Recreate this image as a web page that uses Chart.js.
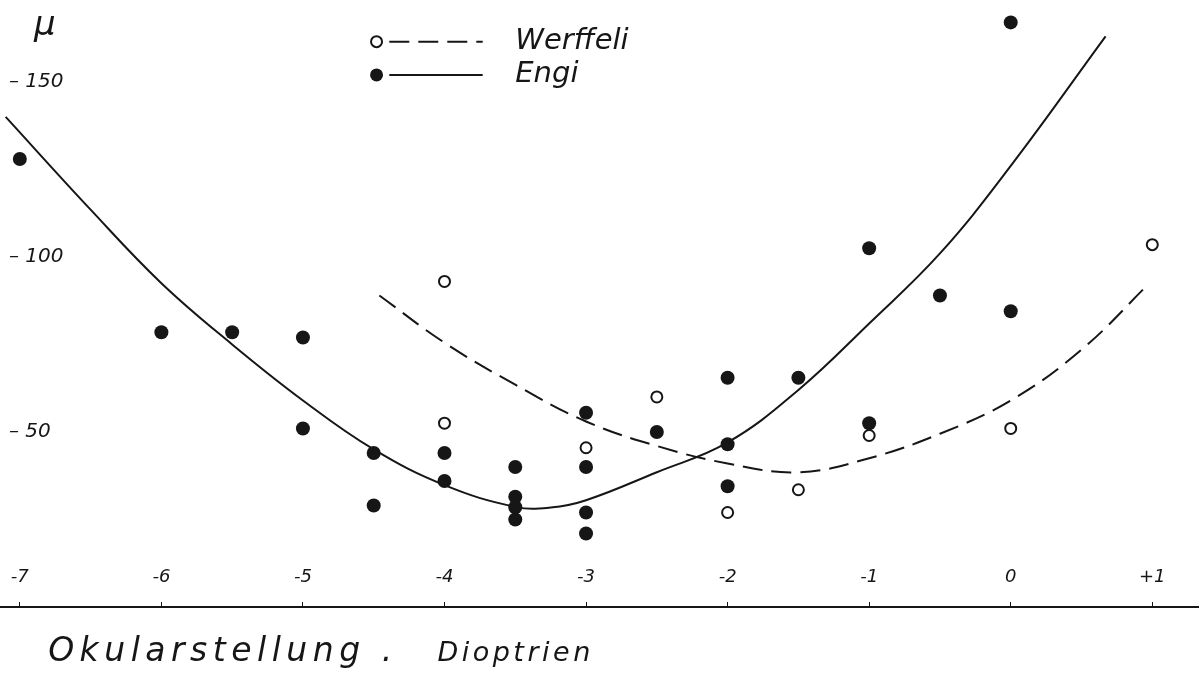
<!DOCTYPE html>
<html>
<head>
<meta charset="utf-8">
<script src="https://cdn.jsdelivr.net/npm/chart.js@4.4.1/dist/chart.umd.min.js"></script>
<style>
  html, body { margin: 0; padding: 0; background: #fff; }
</style>
</head>
<body>
<canvas id="chart" width="1199" height="673"></canvas>
<script>
// tick labels
const xTicks = [-7, -6, -5, -4, -3, -2, -1, 0, 1];
const xTickLabels = ['-7', '-6', '-5', '-4', '-3', '-2', '-1', '0', '+1'];
const yTicks = [50, 100, 150];
const yTickLabels = ['\u2013 50', '\u2013 100', '\u2013 150'];

// Engi (filled dots)
const engiX = [-7, -6, -5.5, -5, -5, -4.5, -4.5, -4, -4, -3.5, -3.5, -3.5, -3.5,
  -3, -3, -3, -3, -2.5, -2, -2, -2, -1.5, -1, -1, -0.5, 0, 0];
const engiY = [128, 78.5, 78.5, 77, 51, 44, 29, 44, 36, 40, 31.5, 28.5, 25,
  55.5, 40, 27, 21, 50, 65.5, 46.5, 34.5, 65.5, 102.5, 52.5, 89, 84.5, 167];

// Werffeli (open dots)
const werffeliX = [-4, -4, -3, -2.5, -2, -1.5, -1, 0, 1];
const werffeliY = [93, 52.5, 45.5, 60, 27, 33.5, 49, 51, 103.5];

// hand-drawn curves
const engiCurveX = [-7.1, -6.5, -6, -5.5, -5, -4.5, -4, -3.5, -3.25, -3, -2.5, -2, -1.5, -1, -0.5, 0, 0.67];
const engiCurveY = [140, 113.5, 92.5, 75, 59, 45, 34.8, 28.6, 28.4, 30.5, 38.5, 47, 62, 81, 101, 126, 163];
const werffeliCurveX = [-4.46, -4, -3.5, -3, -2.5, -2, -1.5, -1, -0.5, 0, 0.5, 0.98];
const werffeliCurveY = [89, 75.5, 63.5, 53, 46, 41, 38.5, 42.5, 49.5, 59, 73.5, 92.5];

const ink = '#161616';
const hand = '"DejaVu Sans"';

const pts = (xs, ys) => xs.map((v, i) => ({ x: v, y: ys[i] }));

const textPlugin = {
  id: 'handText',
  afterDraw(chart) {
    const { ctx, scales: { x, y } } = chart;
    ctx.save();
    ctx.fillStyle = ink;
    ctx.strokeStyle = ink;
    ctx.textBaseline = 'alphabetic';

    // unit
    ctx.font = 'italic 34px ' + hand;
    ctx.fillText('\u03bc', x.getPixelForValue(-6.9), y.getPixelForValue(163.5));

    // legend
    const rows = [
      { label: 'Werffeli', yv: 161.5, open: true },
      { label: 'Engi', yv: 152, open: false }
    ];
    rows.forEach(r => {
      const py = y.getPixelForValue(r.yv);
      const mx = x.getPixelForValue(-4.48);
      ctx.beginPath();
      ctx.arc(mx, py, r.open ? 5.5 : 6.5, 0, Math.PI * 2);
      if (r.open) { ctx.lineWidth = 2; ctx.fillStyle = '#fff'; ctx.fill(); ctx.stroke(); }
      else { ctx.fillStyle = ink; ctx.fill(); }
      ctx.beginPath();
      ctx.lineWidth = 2;
      ctx.setLineDash(r.open ? [20, 9] : []);
      ctx.moveTo(x.getPixelForValue(-4.39), py);
      ctx.lineTo(x.getPixelForValue(-3.73), py);
      ctx.stroke();
      ctx.setLineDash([]);
      ctx.fillStyle = ink;
      ctx.font = 'italic 29px ' + hand;
      ctx.textBaseline = 'middle';
      ctx.fillText(r.label, x.getPixelForValue(-3.5), py);
    });

    // axis title
    ctx.textBaseline = 'alphabetic';
    ctx.letterSpacing = '5.5px';
    ctx.font = 'italic 33px ' + hand;
    ctx.fillText('Okularstellung .', x.getPixelForValue(-6.8), y.getPixelForValue(-15.5));
    ctx.letterSpacing = '3.5px';
    ctx.font = 'italic 27px ' + hand;
    ctx.fillText('Dioptrien', x.getPixelForValue(-4.05), y.getPixelForValue(-15.5));
    ctx.restore();
  }
};

new Chart(document.getElementById('chart'), {
  type: 'scatter',
  data: {
    datasets: [
      {
        label: 'Engi curve',
        data: pts(engiCurveX, engiCurveY),
        showLine: true,
        borderColor: ink,
        borderWidth: 2,
        pointRadius: 0,
        tension: 0.4,
        clip: false
      },
      {
        label: 'Werffeli curve',
        data: pts(werffeliCurveX, werffeliCurveY),
        showLine: true,
        borderColor: ink,
        borderWidth: 2,
        borderDash: [20, 9],
        pointRadius: 0,
        tension: 0.4,
        clip: false
      },
      {
        label: 'Engi',
        data: pts(engiX, engiY),
        pointRadius: 7,
        backgroundColor: ink,
        borderColor: ink,
        borderWidth: 0,
        clip: false
      },
      {
        label: 'Werffeli',
        data: pts(werffeliX, werffeliY),
        pointRadius: 5.5,
        backgroundColor: '#fff',
        borderColor: ink,
        borderWidth: 2,
        clip: false
      }
    ]
  },
  options: {
    responsive: false,
    animation: false,
    layout: { padding: 0, autoPadding: false },
    plugins: {
      legend: { display: false },
      tooltip: { enabled: false }
    },
    scales: {
      x: {
        type: 'linear',
        min: -7.14,
        max: 1.33,
        afterBuildTicks: s => { s.ticks = xTicks.map(v => ({ value: v })); },
        afterFit: s => { s.height = 66; s.paddingLeft = 0; s.paddingRight = 0; },
        grid: { display: true, drawOnChartArea: false, drawTicks: true, tickLength: -5, color: ink, tickWidth: 1 },
        border: { display: true, color: ink, width: 2 },
        ticks: {
          mirror: true,
          padding: 19,
          color: ink,
          font: { family: 'DejaVu Sans', style: 'italic', size: 18 },
          callback: v => xTickLabels[xTicks.indexOf(v)]
        }
      },
      y: {
        type: 'linear',
        min: 0,
        max: 173.4,
        afterBuildTicks: s => { s.ticks = yTicks.map(v => ({ value: v })); },
        afterFit: s => { s.width = 0; s.paddingTop = 0; s.paddingBottom = 0; },
        grid: { display: false },
        border: { display: false },
        ticks: {
          mirror: true,
          padding: 9,
          color: ink,
          font: { family: 'DejaVu Sans', style: 'italic', size: 20 },
          callback: v => yTickLabels[yTicks.indexOf(v)]
        }
      }
    }
  },
  plugins: [textPlugin]
});
</script>
</body>
</html>
